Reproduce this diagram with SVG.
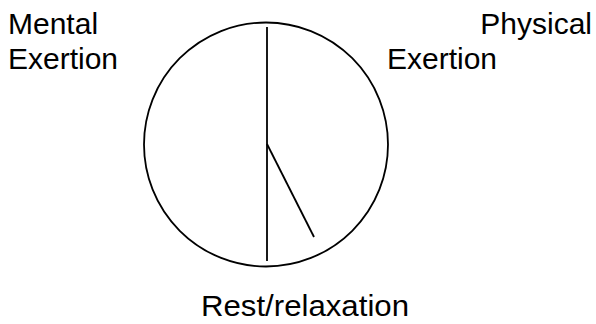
<svg xmlns="http://www.w3.org/2000/svg" width="596" height="324" viewBox="0 0 596 324">
<style>
.lbl{font-family:"Liberation Sans",Arial,sans-serif;font-size:30px;fill:#000}
.ln{stroke:#000;stroke-width:1.8;fill:none}
</style>
<rect width="596" height="324" fill="#fff"/>
<g id="circle"><circle class="ln" cx="266" cy="144.5" r="122"/></g>
<g id="connectors">
<line class="ln" x1="267" y1="27" x2="267" y2="261"/>
<line class="ln" x1="267" y1="144" x2="314" y2="237"/>
</g>
<g id="mental"><text class="lbl" x="8" y="34">Mental</text><text class="lbl" x="8" y="69">Exertion</text></g>
<g id="physical"><text class="lbl" x="592" y="34" text-anchor="end">Physical</text><text class="lbl" x="387" y="69">Exertion</text></g>
<g id="rest"><text class="lbl" x="201" y="316" textLength="208" lengthAdjust="spacingAndGlyphs">Rest/relaxation</text></g>
</svg>
